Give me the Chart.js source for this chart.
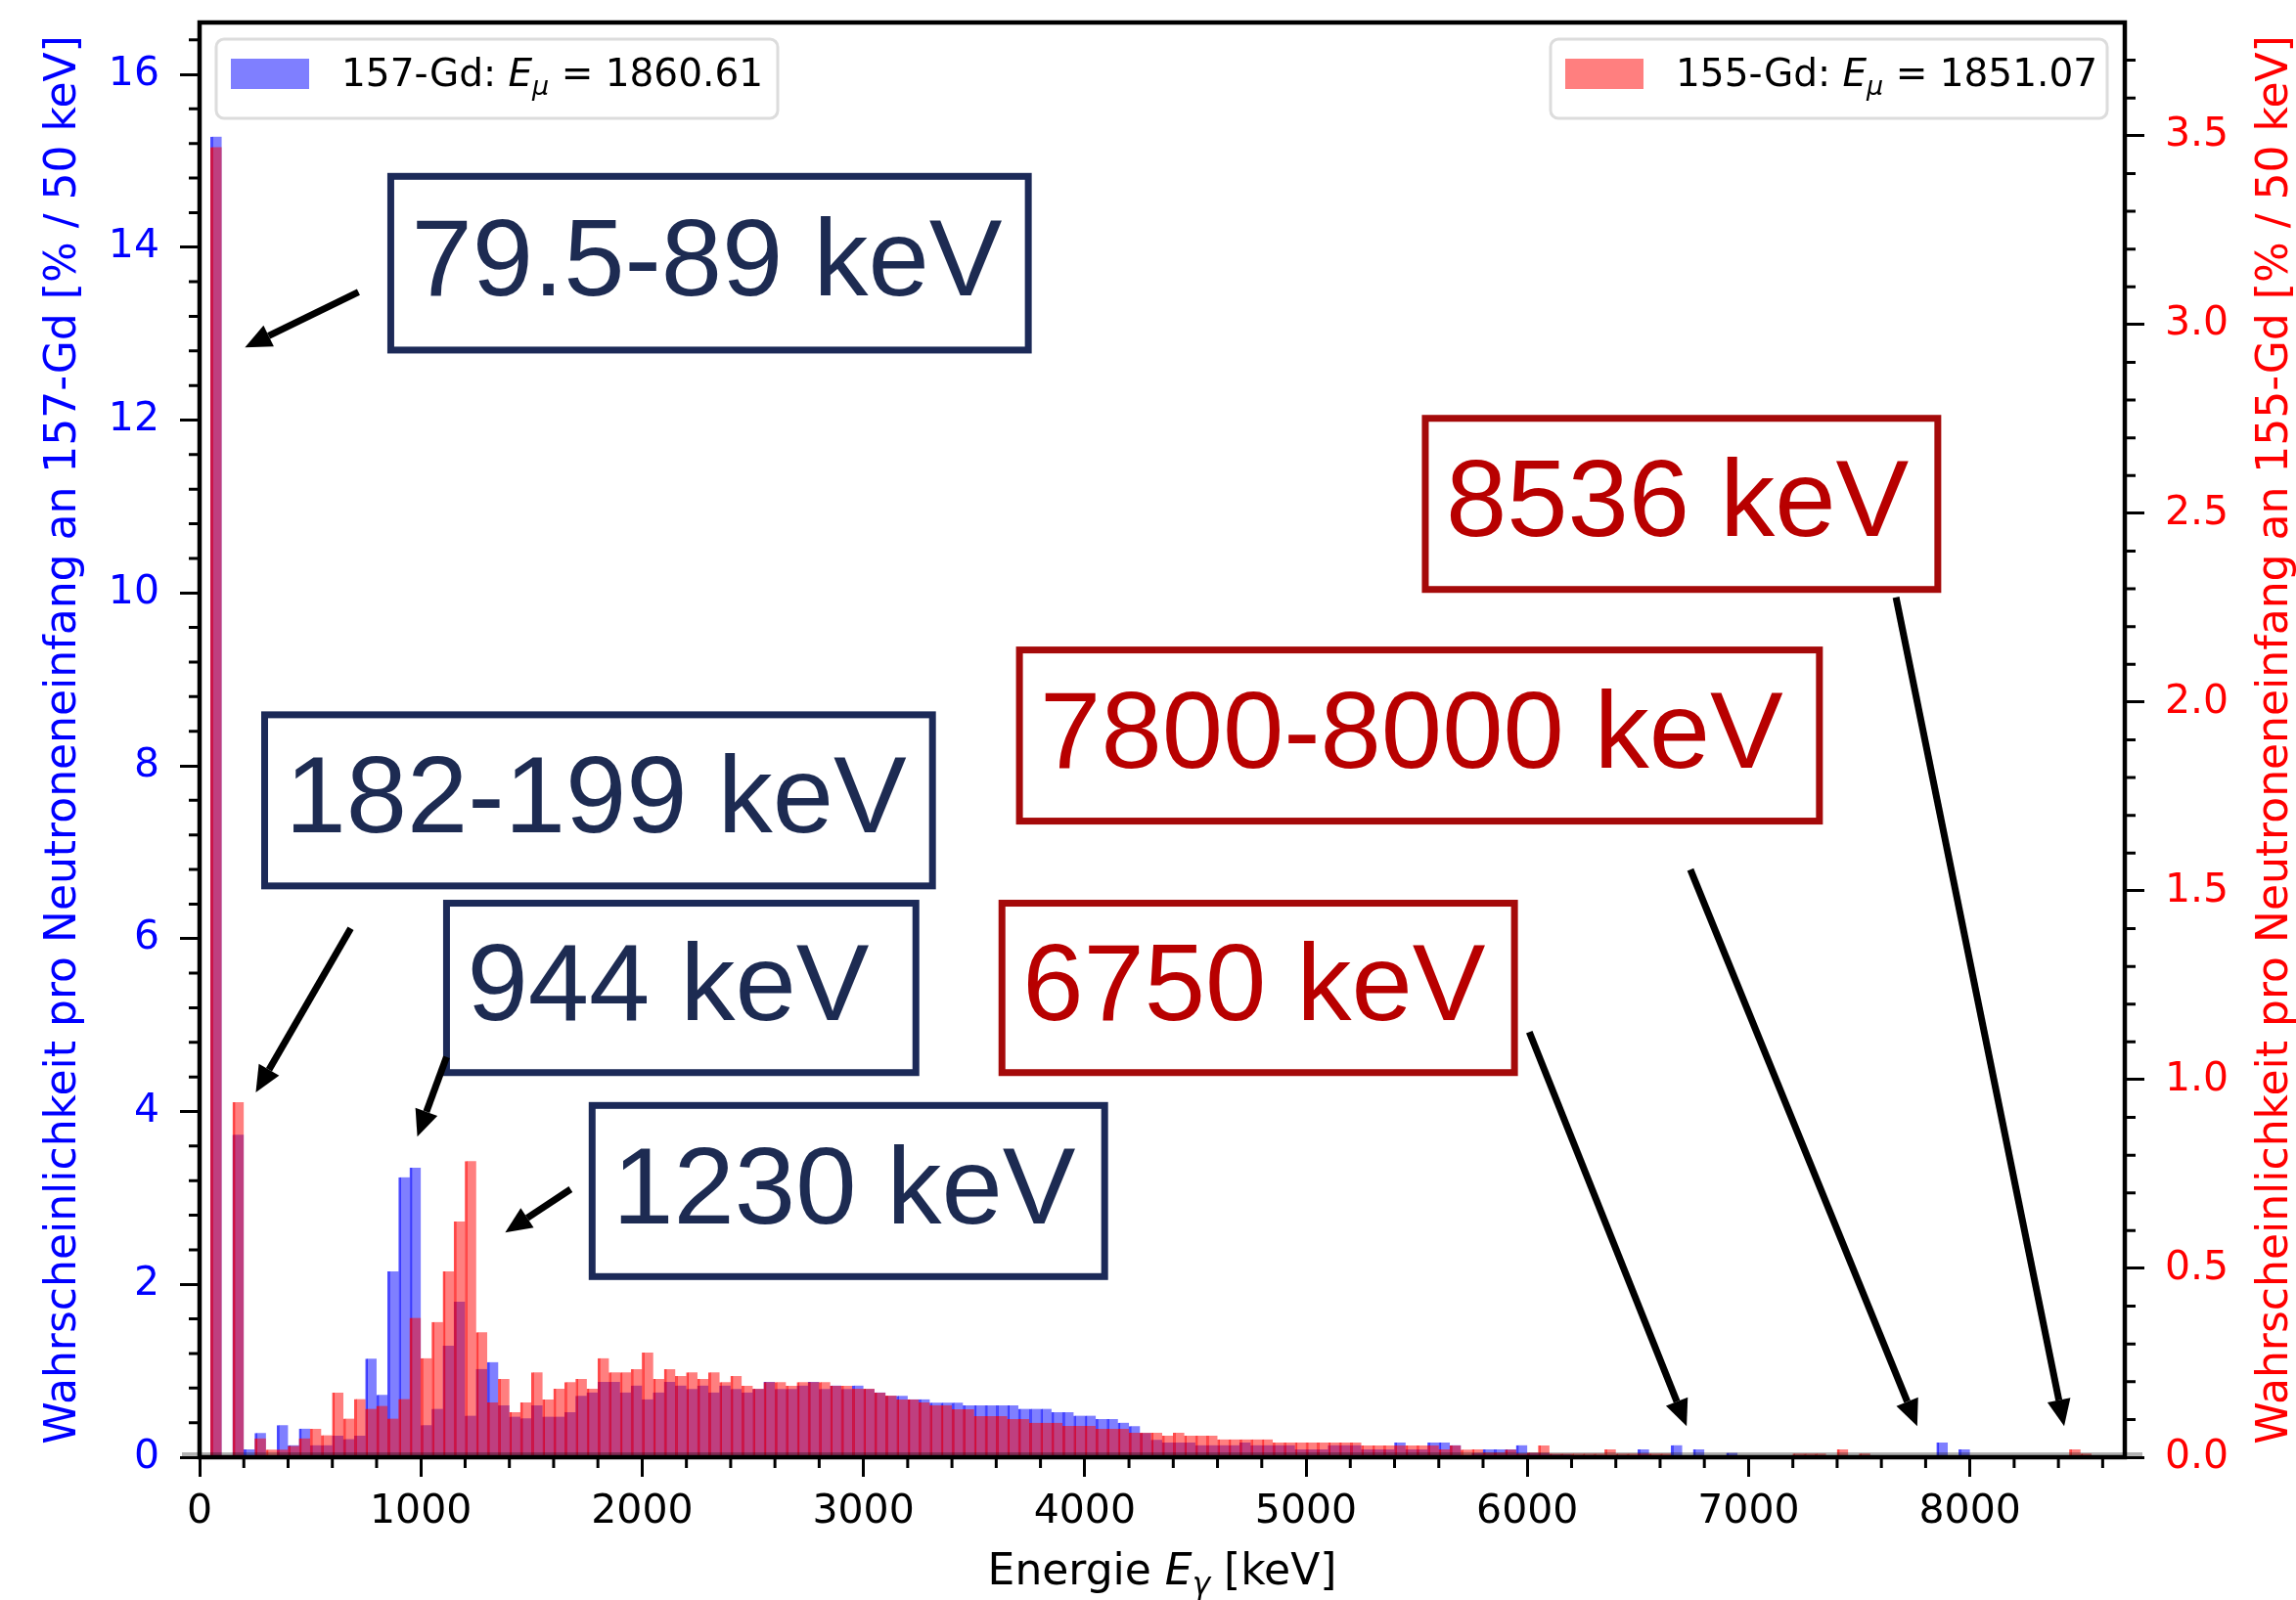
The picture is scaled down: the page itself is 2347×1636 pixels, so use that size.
<!DOCTYPE html>
<html lang="de">
<head>
<meta charset="UTF-8">
<title>Gamma-Spektrum 157-Gd / 155-Gd</title>
<style>
    * { margin: 0; padding: 0; box-sizing: border-box; }
    body { background: #fff; width: 2347px; height: 1636px; overflow: hidden; }
    #chart { display: block; }
</style>
</head>
<body>
<canvas id="chart" width="2347" height="1636"></canvas>
<script src="https://cdn.jsdelivr.net/npm/chart.js@4.4.1/dist/chart.umd.min.js"></script>
<script>
    // 50 keV bins starting at 0 keV
    const binWidth = 50;

    // 157-Gd, left axis [% / 50 keV]
    const gd157 = [
        0, 15.28, 0, 3.73, 0.09, 0.28, 0, 0.37, 0.14, 0.33,
        0.14, 0.14, 0.25, 0.21, 0.25, 1.14, 0.72, 2.15, 3.24, 3.35,
        0.37, 0.56, 1.29, 1.80, 0.48, 1.02, 1.10, 0.60, 0.47, 0.45,
        0.60, 0.47, 0.47, 0.52, 0.71, 0.75, 0.87, 0.87, 0.75, 0.83,
        0.67, 0.75, 0.87, 0.83, 0.79, 0.83, 0.75, 0.83, 0.79, 0.75,
        0.79, 0.87, 0.79, 0.79, 0.83, 0.87, 0.79, 0.83, 0.79, 0.83,
        0.79, 0.75, 0.71, 0.71, 0.67, 0.67, 0.63, 0.63, 0.63, 0.60,
        0.60, 0.60, 0.60, 0.60, 0.56, 0.56, 0.56, 0.52, 0.52, 0.48,
        0.48, 0.44, 0.44, 0.40, 0.36, 0.28, 0.20, 0.17, 0.17, 0.17,
        0.14, 0.14, 0.14, 0.14, 0.17, 0.14, 0.14, 0.14, 0.14, 0.09,
        0.09, 0.09, 0.14, 0.14, 0.14, 0.09, 0.09, 0.09, 0.17, 0.09,
        0.09, 0.17, 0.17, 0.14, 0, 0.05, 0.09, 0.09, 0.09, 0.14,
        0.05, 0.05, 0.03, 0.03, 0, 0, 0, 0, 0, 0,
        0.09, 0.02, 0.02, 0.14, 0, 0.09, 0, 0, 0.05, 0,
        0, 0, 0, 0, 0, 0, 0, 0, 0, 0,
        0, 0, 0, 0, 0, 0, 0, 0.17, 0, 0.09,
        0, 0, 0, 0, 0, 0, 0, 0, 0, 0,
        0, 0, 0, 0
    ];

    // 155-Gd, right axis [% / 50 keV]
    const gd155 = [
        0, 3.47, 0, 0.94, 0, 0.05, 0.02, 0.02, 0.03, 0.05,
        0.075, 0.058, 0.171, 0.102, 0.154, 0.128, 0.136, 0.102, 0.154, 0.369,
        0.262, 0.358, 0.492, 0.624, 0.784, 0.331, 0.145, 0.207, 0.119, 0.145,
        0.225, 0.153, 0.181, 0.199, 0.207, 0.181, 0.262, 0.225, 0.225, 0.233,
        0.277, 0.207, 0.233, 0.215, 0.225, 0.207, 0.225, 0.199, 0.215, 0.189,
        0.181, 0.199, 0.199, 0.189, 0.199, 0.199, 0.199, 0.189, 0.189, 0.181,
        0.181, 0.171, 0.163, 0.153, 0.153, 0.145, 0.137, 0.137, 0.127, 0.127,
        0.109, 0.109, 0.109, 0.101, 0.101, 0.091, 0.091, 0.091, 0.083, 0.083,
        0.083, 0.075, 0.075, 0.075, 0.065, 0.065, 0.065, 0.057, 0.065, 0.057,
        0.057, 0.057, 0.047, 0.047, 0.047, 0.047, 0.047, 0.039, 0.039, 0.039,
        0.039, 0.039, 0.039, 0.039, 0.039, 0.031, 0.031, 0.031, 0.031, 0.031,
        0.031, 0.031, 0.021, 0.031, 0.02, 0.021, 0.012, 0.012, 0.02, 0.01,
        0.012, 0.031, 0.01, 0.01, 0.01, 0.01, 0.01, 0.021, 0.01, 0.01,
        0.01, 0.01, 0.01, 0.005, 0, 0, 0, 0, 0, 0,
        0, 0, 0, 0, 0.01, 0.01, 0.01, 0, 0.021, 0,
        0.01, 0, 0, 0, 0, 0, 0, 0, 0, 0,
        0, 0, 0, 0, 0, 0, 0, 0, 0, 0.021,
        0.01, 0, 0, 0
    ];

    const binCenters = gd157.map((_, i) => binWidth * i + binWidth / 2);

    const xTicks = [0, 1000, 2000, 3000, 4000, 5000, 6000, 7000, 8000];
    const xTickLabels = ['0', '1000', '2000', '3000', '4000', '5000', '6000', '7000', '8000'];
    const yLeftTicks = [0, 2, 4, 6, 8, 10, 12, 14, 16];
    const yLeftTickLabels = ['0', '2', '4', '6', '8', '10', '12', '14', '16'];
    const yRightTicks = [0, 0.5, 1.0, 1.5, 2.0, 2.5, 3.0, 3.5];
    const yRightTickLabels = ['0.0', '0.5', '1.0', '1.5', '2.0', '2.5', '3.0', '3.5'];

    const seriesNames = ['157-Gd', '155-Gd'];
    const meanEnergies = ['1860.61', '1851.07'];
    const yTitleLeft = 'Wahrscheinlichkeit pro Neutroneneinfang an 157-Gd [% / 50 keV]';
    const yTitleRight = 'Wahrscheinlichkeit pro Neutroneneinfang an 155-Gd [% / 50 keV]';

    // annotation boxes + arrows, in data units (keV, left axis %)
    const notes = [
        { text: '79.5-89 keV',   tone: 'navy', box: [864, 14.82, 3745, 12.81],  from: [718, 13.48],  to: [205, 12.84] },
        { text: '182-199 keV',   tone: 'navy', box: [294, 8.59, 3312, 6.61],    from: [683, 6.12],   to: [254, 4.22] },
        { text: '944 keV',       tone: 'navy', box: [1116, 6.41, 3237, 4.45],   from: [1116, 4.63],  to: [984, 3.71] },
        { text: '1230 keV',      tone: 'navy', box: [1774, 4.07, 4090, 2.09],   from: [1677, 3.10],  to: [1381, 2.60] },
        { text: '8536 keV',      tone: 'red',  box: [5539, 12.02, 7855, 10.04], from: [7666, 9.95],  to: [8426, 0.36] },
        { text: '7800-8000 keV', tone: 'red',  box: [3705, 9.34, 7320, 7.36],   from: [6737, 6.80],  to: [7762, 0.36] },
        { text: '6750 keV',      tone: 'red',  box: [3626, 6.41, 5942, 4.45],   from: [6009, 4.92],  to: [6720, 0.36] }
    ];

    const blueFill = 'rgba(0, 0, 255, 0.5)';
    const redFill = 'rgba(255, 0, 0, 0.5)';
    const tones = {
        navy: { border: '#1c2a58', text: '#1d2b52' },
        red: { border: '#a50a0a', text: '#b80000' }
    };
    const tickFont = { family: 'DejaVu Sans', size: 41 };

    function drawRich(ctx, parts, x, y, size, align) {
        // parts: [text, style] with style '', 'i' (italic) or 's' (italic subscript)
        const fontOf = st => st === 'i' ? 'italic ' + size + 'px "DejaVu Sans"'
            : st === 's' ? 'italic ' + Math.round(size * 0.7) + 'px "DejaVu Sans"'
            : size + 'px "DejaVu Sans"';
        let total = 0;
        parts.forEach(p => { ctx.font = fontOf(p[1]); total += ctx.measureText(p[0]).width; });
        let cx = align === 'center' ? x - total / 2 : x;
        ctx.textAlign = 'left';
        ctx.textBaseline = 'alphabetic';
        parts.forEach(p => {
            ctx.font = fontOf(p[1]);
            ctx.fillText(p[0], cx, p[1] === 's' ? y + size * 0.22 : y);
            cx += ctx.measureText(p[0]).width;
        });
    }

    function drawArrow(ctx, x1, y1, x2, y2) {
        const ang = Math.atan2(y2 - y1, x2 - x1);
        const head = 27, half = 12;
        const bx = x2 - head * Math.cos(ang), by = y2 - head * Math.sin(ang);
        ctx.strokeStyle = '#000';
        ctx.fillStyle = '#000';
        ctx.lineWidth = 7;
        ctx.beginPath();
        ctx.moveTo(x1, y1);
        ctx.lineTo(bx, by);
        ctx.stroke();
        ctx.beginPath();
        ctx.moveTo(x2, y2);
        ctx.lineTo(bx - half * Math.sin(ang), by + half * Math.cos(ang));
        ctx.lineTo(bx + half * Math.sin(ang), by - half * Math.cos(ang));
        ctx.closePath();
        ctx.fill();
    }

    function drawLegend(ctx, left, top, w, h, fill, name, energy) {
        ctx.fillStyle = 'rgba(255, 255, 255, 0.85)';
        ctx.strokeStyle = '#dcdcdc';
        ctx.lineWidth = 3;
        ctx.beginPath();
        ctx.roundRect(left, top, w, h, 8);
        ctx.fill();
        ctx.stroke();
        ctx.fillStyle = fill;
        ctx.fillRect(left + 15, top + 20, 80, 31);
        ctx.fillStyle = '#000';
        drawRich(ctx, [[name + ': ', ''], ['E', 'i'], ['μ', 's'], [' = ' + energy, '']], left + 128, top + 48, 39, 'left');
    }

    const decor = {
        id: 'decor',
        afterDatasetsDraw(chart) {
            const { ctx, chartArea: a, scales: { x, yL, yR } } = chart;
            ctx.save();

            // soft band above bottom spine
            ctx.fillStyle = 'rgba(0, 0, 0, 0.3)';
            ctx.fillRect(a.left - 18, a.bottom - 5, a.right - a.left + 36, 5);

            // minor ticks
            ctx.strokeStyle = '#000';
            ctx.lineWidth = 3;
            ctx.beginPath();
            for (let k = 1; k * 200 <= x.max; k++) {
                if (k % 5 === 0) continue;
                const px = x.getPixelForValue(k * 200);
                ctx.moveTo(px, a.bottom);
                ctx.lineTo(px, a.bottom + 11);
            }
            for (let k = 1; k * 0.4 <= yL.max; k++) {
                if (k % 5 === 0) continue;
                const py = yL.getPixelForValue(k * 0.4);
                ctx.moveTo(a.left - 11, py);
                ctx.lineTo(a.left, py);
            }
            for (let k = 1; k * 0.1 <= yR.max; k++) {
                if (k % 5 === 0) continue;
                const py = yR.getPixelForValue(k * 0.1);
                ctx.moveTo(a.right, py);
                ctx.lineTo(a.right + 11, py);
            }
            ctx.stroke();

            // frame
            ctx.lineWidth = 4.5;
            ctx.strokeRect(a.left, a.top, a.right - a.left, a.bottom - a.top);

            // axis titles
            const midY = (a.top + a.bottom) / 2;
            ctx.font = '44px "DejaVu Sans"';
            ctx.textAlign = 'center';
            ctx.textBaseline = 'alphabetic';
            ctx.save();
            ctx.translate(77, midY);
            ctx.rotate(-Math.PI / 2);
            ctx.fillStyle = '#0000ff';
            ctx.fillText(yTitleLeft, 0, 0);
            ctx.restore();
            ctx.save();
            ctx.translate(2338, midY);
            ctx.rotate(-Math.PI / 2);
            ctx.fillStyle = '#ff0000';
            ctx.fillText(yTitleRight, 0, 0);
            ctx.restore();
            ctx.fillStyle = '#000';
            drawRich(ctx, [['Energie ', ''], ['E', 'i'], ['γ', 's'], [' [keV]', '']], (a.left + a.right) / 2, 1620, 44, 'center');

            // legends
            drawLegend(ctx, a.left + 17, a.top + 17, 574, 81, blueFill, seriesNames[0], meanEnergies[0]);
            drawLegend(ctx, a.right - 587, a.top + 17, 569, 81, redFill, seriesNames[1], meanEnergies[1]);

            // annotation boxes and arrows
            notes.forEach(n => {
                const t = tones[n.tone];
                const l = x.getPixelForValue(n.box[0]), tp = yL.getPixelForValue(n.box[1]);
                const r = x.getPixelForValue(n.box[2]), b = yL.getPixelForValue(n.box[3]);
                ctx.fillStyle = '#fff';
                ctx.fillRect(l, tp, r - l, b - tp);
                ctx.strokeStyle = t.border;
                ctx.lineWidth = 7;
                ctx.strokeRect(l, tp, r - l, b - tp);
                ctx.fillStyle = t.text;
                ctx.font = '112px "Liberation Sans"';
                ctx.textAlign = 'left';
                ctx.textBaseline = 'middle';
                ctx.fillText(n.text, l + 21, (tp + b) / 2 + 2);
                drawArrow(ctx,
                    x.getPixelForValue(n.from[0]), yL.getPixelForValue(n.from[1]),
                    x.getPixelForValue(n.to[0]), yL.getPixelForValue(n.to[1]));
            });

            ctx.restore();
        }
    };

    function noPad(s) {
        s.paddingTop = 0;
        s.paddingBottom = 0;
        s.paddingLeft = 0;
        s.paddingRight = 0;
    }

    new Chart(document.getElementById('chart'), {
        type: 'bar',
        data: {
            datasets: [
                {
                    label: seriesNames[1],
                    data: binCenters.map((e, i) => ({ x: e, y: gd155[i] })),
                    yAxisID: 'yR',
                    backgroundColor: redFill,
                    borderColor: 'rgba(255, 0, 0, 0.7)',
                    order: 0
                },
                {
                    label: seriesNames[0],
                    data: binCenters.map((e, i) => ({ x: e, y: gd157[i] })),
                    yAxisID: 'yL',
                    backgroundColor: blueFill,
                    borderColor: 'rgba(0, 0, 255, 0.7)',
                    order: 1
                }
            ]
        },
        options: {
            responsive: false,
            animation: false,
            devicePixelRatio: 1,
            layout: { padding: { top: 23, left: 0, right: 0, bottom: 0 }, autoPadding: false },
            datasets: { bar: { barPercentage: 1, categoryPercentage: 1, grouped: false,
                borderWidth: { left: 2, right: 0, top: 0, bottom: 0 } } },
            plugins: { legend: { display: false }, tooltip: { enabled: false } },
            scales: {
                x: {
                    type: 'linear', position: 'bottom', min: 0, max: 8700, offset: false,
                    grid: { offset: false, drawOnChartArea: false, tickLength: 20, tickWidth: 3, tickColor: '#000' },
                    border: { display: false },
                    ticks: { color: '#000', font: tickFont, padding: 12, maxRotation: 0, autoSkip: false,
                        callback: (v, i) => xTickLabels[i] },
                    afterBuildTicks: s => { s.ticks = xTicks.map(v => ({ value: v })); },
                    afterFit: s => { s.height = 146; noPad(s); }
                },
                yL: {
                    type: 'linear', position: 'left', min: 0, max: 16.6,
                    grid: { drawOnChartArea: false, tickLength: 20, tickWidth: 3, tickColor: '#000' },
                    border: { display: false },
                    ticks: { color: '#0000ff', font: tickFont, padding: 21, autoSkip: false,
                        callback: (v, i) => yLeftTickLabels[i] },
                    afterBuildTicks: s => { s.ticks = yLeftTicks.map(v => ({ value: v })); },
                    afterFit: s => { s.width = 204; noPad(s); }
                },
                yR: {
                    type: 'linear', position: 'right', min: 0, max: 3.8,
                    grid: { drawOnChartArea: false, tickLength: 20, tickWidth: 3, tickColor: '#000' },
                    border: { display: false },
                    ticks: { color: '#ff0000', font: tickFont, padding: 21, autoSkip: false,
                        callback: (v, i) => yRightTickLabels[i] },
                    afterBuildTicks: s => { s.ticks = yRightTicks.map(v => ({ value: v })); },
                    afterFit: s => { s.width = 175; noPad(s); }
                }
            }
        },
        plugins: [decor]
    });
</script>
</body>
</html>
